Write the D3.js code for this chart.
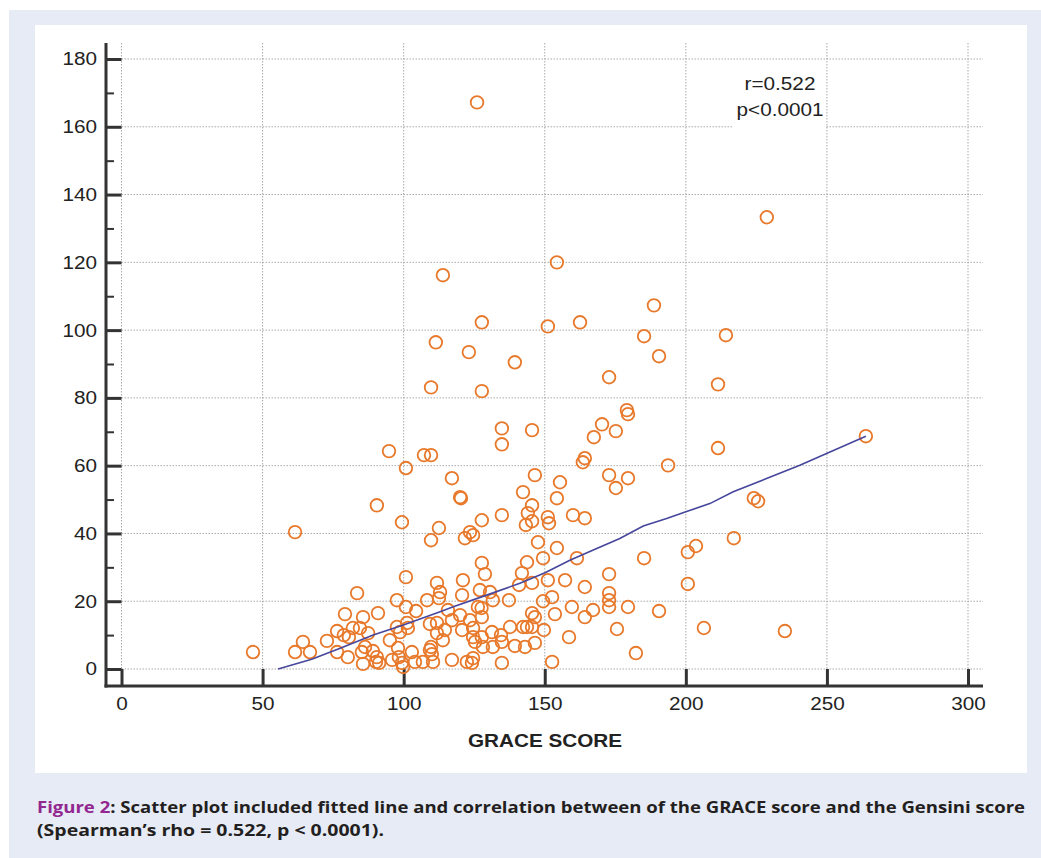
<!DOCTYPE html>
<html><head><meta charset="utf-8">
<script src="https://cdn.jsdelivr.net/npm/d3@7"></script>
<style>body{margin:0;background:#fff;} svg{display:block}</style>
</head><body>
<svg id="c" width="1041" height="858"></svg>
<script>
// GRACE score (x) and Gensini score (y) of each patient
const graceScore = [126.0,228.7,154.3,113.9,188.7,127.7,162.5,151.1,185.2,214.2,111.4,123.1,190.5,139.4,172.8,109.7,127.7,211.4,179.1,179.5,
134.8,145.5,170.3,175.2,167.4,134.8,211.4,263.8,94.8,107.2,109.7,164.2,163.5,100.8,193.7,117.1,146.5,172.8,179.5,155.4,
175.2,142.3,120.0,120.3,154.3,224.1,225.6,90.5,145.5,134.8,144.0,151.1,151.5,160.0,164.2,127.7,99.4,61.5,112.5,109.7,
121.7,123.5,124.6,145.5,143.3,217.0,147.6,203.6,200.7,154.3,185.2,149.4,161.4,143.7,127.7,100.8,128.8,141.9,172.8,121.0,
111.8,140.9,145.5,151.1,157.2,200.7,164.2,83.5,127.0,130.6,112.9,120.7,152.6,172.8,112.5,97.6,108.3,131.6,137.3,172.8,
149.4,100.8,104.4,90.9,79.2,85.6,126.3,127.6,159.6,172.8,179.5,167.1,115.7,190.5,145.5,153.6,120.0,127.7,146.5,164.2,
123.5,117.1,101.2,109.3,111.8,97.6,137.7,142.3,143.7,145.5,82.0,84.5,101.5,124.6,175.6,206.4,235.1,149.7,114.6,120.7,
76.4,98.7,87.4,111.8,131.3,78.8,80.6,134.5,158.6,124.6,127.7,113.9,95.1,72.8,64.3,125.3,134.8,146.5,139.4,143.0,
128.1,131.6,109.7,86.3,98.0,109.3,61.5,66.8,46.6,76.4,85.2,89.1,102.9,110.0,182.3,98.3,80.2,90.5,124.6,117.1,
95.9,104.0,106.8,110.4,122.4,124.2,90.2,91.3,85.6,99.4,134.8,152.6,99.8];
const gensiniScore = [167.2,133.3,120.0,116.2,107.3,102.3,102.3,101.1,98.2,98.5,96.4,93.5,92.3,90.5,86.1,83.1,82.0,84.0,76.4,75.2,
71.0,70.5,72.2,70.2,68.4,66.3,65.2,68.7,64.3,63.1,63.1,62.2,61.0,59.3,60.1,56.3,57.2,57.2,56.3,55.1,
53.4,52.2,50.7,50.4,50.4,50.4,49.5,48.3,48.3,45.4,46.0,44.8,43.0,45.4,44.5,43.9,43.3,40.4,41.6,38.0,
38.6,40.4,39.5,43.6,42.5,38.6,37.4,36.3,34.5,35.7,32.7,32.7,32.7,31.5,31.3,27.1,28.0,28.3,28.0,26.2,
25.4,24.8,25.4,26.2,26.2,25.1,24.2,22.4,23.3,22.7,22.7,21.8,21.2,22.4,20.9,20.3,20.3,20.3,20.3,20.3,
20.0,18.3,17.1,16.5,16.2,15.3,18.3,18.0,18.3,18.3,18.3,17.4,17.4,17.1,16.5,16.2,15.9,15.3,15.3,15.3,
14.4,14.4,13.6,13.3,13.6,12.4,12.4,12.4,12.4,12.4,12.1,12.1,12.1,12.1,11.8,12.1,11.2,11.5,11.5,11.5,
11.2,10.9,10.6,10.6,10.9,10.0,9.4,10.0,9.4,9.4,9.4,8.5,8.5,8.3,8.0,8.0,8.0,7.7,6.8,6.5,
6.5,6.5,6.5,6.5,6.2,5.6,5.0,5.0,5.0,5.0,5.0,5.3,5.0,4.4,4.7,3.5,3.5,3.5,3.2,2.7,
2.7,2.1,2.1,2.1,2.1,1.8,2.1,1.8,1.5,1.8,1.8,2.1,0.6];
// fitted line (as drawn)
const fitGrace   = [55.5,67.4,77.5,89.2,99.9,112.9,117.6,129.4,141.2,150.1,158.9,167.2,176.6,184.9,193.2,200.0,208.5,216.8,228.6,240.4,263.8];
const fitGensini = [0,2.9,6.1,10.0,13.0,16.9,18.4,21.8,25.3,28.4,32.1,35.1,38.5,42.2,44.4,46.4,48.8,52.3,56.2,60.1,68.7];
const xTicks = [0,50,100,150,200,250,300];
const yTicks = [0,20,40,60,80,100,120,140,160,180];
const yMinorTicks = [10,30,50,70,90,110,130,150,170];
const xTitle = "GRACE SCORE";
const statLines = ["r=0.522","p<0.0001"];
const captionLabel = "Figure 2";
const captionLine1 = ": Scatter plot included fitted line and correlation between of the GRACE score and the Gensini score";
const captionLine2 = "(Spearman\u2019s rho = 0.522, p < 0.0001).";

const SX = 1.12;
const FONT = "'Liberation Sans', Arial, sans-serif";
const svg = d3.select("#c");

svg.append("rect").attr("x",9).attr("y",10).attr("width",1032).attr("height",848).attr("fill","#e7ebf6");
svg.append("rect").attr("x",35).attr("y",25).attr("width",992).attr("height",748).attr("fill","#ffffff");

const x = d3.scaleLinear().domain([0,300]).range([121.5,968]);
const y = d3.scaleLinear().domain([0,180]).range([669,59]);
const axisX0 = 106, axisY0 = 686, plotTop = 43, plotRight = 983;

// grid
const grid = svg.append("g").attr("stroke","#a9a9a9").attr("stroke-width",1).attr("stroke-dasharray","1.5,1.5");
grid.selectAll("line.v").data(xTicks).join("line")
  .attr("x1",d=>x(d)).attr("x2",d=>x(d)).attr("y1",plotTop).attr("y2",y(0));
grid.selectAll("line.h").data(yTicks).join("line")
  .attr("x1",x(0)).attr("x2",plotRight).attr("y1",d=>y(d)).attr("y2",d=>y(d));

// annotation
svg.append("rect").attr("x",733).attr("y",66).attr("width",93).attr("height",64).attr("fill","#fff");
svg.append("g").selectAll("text").data(statLines).join("text")
  .attr("transform",(d,i)=>`translate(780,${90+i*25.5}) scale(${SX},1)`)
  .attr("text-anchor","middle").attr("font-family",FONT).attr("font-size",18.5).attr("fill","#222")
  .text(d=>d);

// y axis
const yAx = svg.append("g").attr("transform",`translate(${x(0)},0)`)
  .call(d3.axisLeft(y).tickValues(yTicks).tickSize(x(0)-axisX0).tickPadding(9));
yAx.select(".domain").remove();
yAx.selectAll("line").attr("stroke","#333").attr("stroke-width",3);
yAx.selectAll("text").attr("x",-(x(0)-axisX0+9)/SX).attr("transform",`scale(${SX},1)`)
  .attr("font-family",FONT).attr("font-size",18.5).attr("fill","#222");
const yMin = svg.append("g").attr("transform",`translate(${axisX0+8},0)`)
  .call(d3.axisLeft(y).tickValues(yMinorTicks).tickSize(8).tickFormat(""));
yMin.select(".domain").remove();
yMin.selectAll("line").attr("stroke","#333").attr("stroke-width",2);

// x axis
const xAx = svg.append("g").attr("transform",`translate(0,${y(0)})`)
  .call(d3.axisBottom(x).tickValues(xTicks).tickSize(axisY0-y(0)).tickPadding(11));
xAx.select(".domain").remove();
xAx.selectAll("line").attr("stroke","#333").attr("stroke-width",3);
xAx.selectAll("text").attr("transform",`scale(${SX},1)`)
  .attr("font-family",FONT).attr("font-size",18.5).attr("fill","#222");

// axis lines
svg.append("line").attr("x1",axisX0).attr("x2",axisX0).attr("y1",plotTop).attr("y2",axisY0+1.5)
  .attr("stroke","#333").attr("stroke-width",3);
svg.append("line").attr("x1",axisX0-1.5).attr("x2",plotRight).attr("y1",axisY0).attr("y2",axisY0)
  .attr("stroke","#333").attr("stroke-width",3);

// x title
svg.append("text").attr("transform",`translate(545,747) scale(${SX},1)`).attr("text-anchor","middle")
  .attr("font-family",FONT).attr("font-weight","bold").attr("font-size",18.5).attr("fill","#222").text(xTitle);

// points
const pts = graceScore.map((g,i)=>({g, s: gensiniScore[i]}));
svg.append("g").selectAll("circle").data(pts).join("circle")
  .attr("cx",d=>x(d.g)).attr("cy",d=>y(d.s)).attr("r",6.3)
  .attr("fill","none").attr("stroke","#e8792b").attr("stroke-width",1.8);

// fitted line
const fit = fitGrace.map((g,i)=>[g, fitGensini[i]]);
svg.append("path").datum(fit)
  .attr("d", d3.line().x(d=>x(d[0])).y(d=>y(d[1])))
  .attr("fill","none").attr("stroke","#46469c").attr("stroke-width",1.6);

// caption
const CF = "'Open Sans', 'Noto Sans', sans-serif";
const t1 = svg.append("text").attr("x",37).attr("y",813).attr("font-family",CF).attr("font-weight","bold")
  .attr("font-size",16.5).attr("fill","#231f20").attr("textLength",988).attr("lengthAdjust","spacingAndGlyphs");
t1.append("tspan").attr("fill","#92278f").text(captionLabel);
t1.append("tspan").text(captionLine1);
svg.append("text").attr("x",37).attr("y",836).attr("font-family",CF).attr("font-weight","bold")
  .attr("font-size",16.5).attr("fill","#231f20").attr("textLength",347).attr("lengthAdjust","spacingAndGlyphs")
  .text(captionLine2);
</script>
</body></html>
